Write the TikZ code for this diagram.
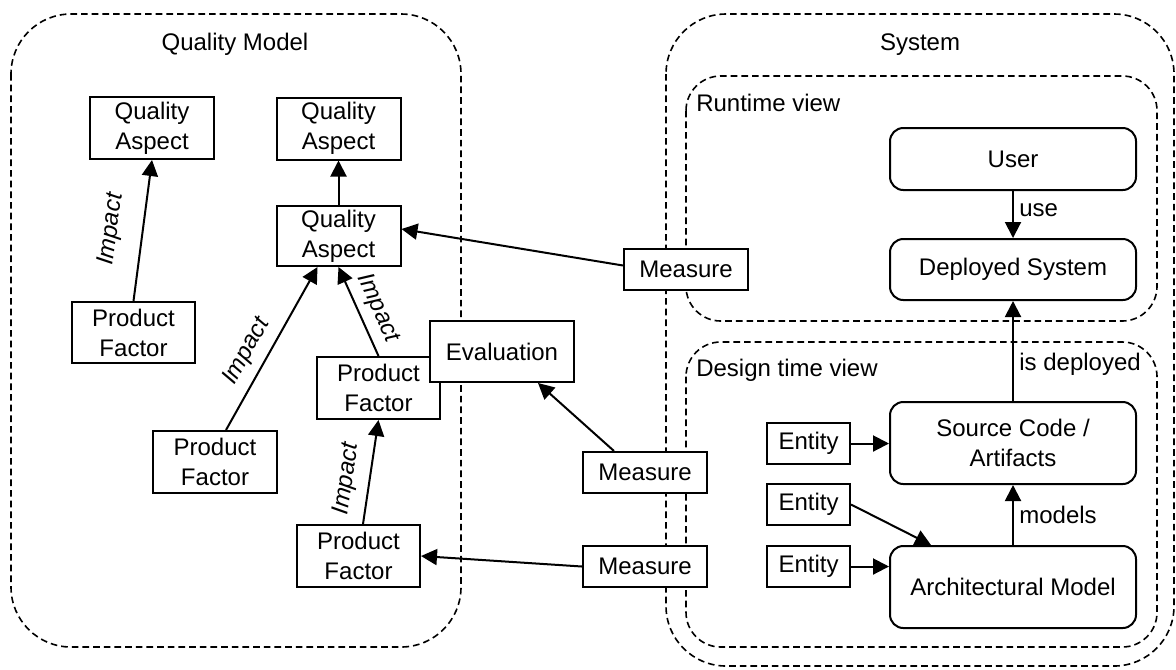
\documentclass[tikz,border=0pt]{standalone}
\usepackage{fontspec}
\setmainfont{Liberation Sans}
\usetikzlibrary{arrows.meta,calc}

\begin{document}
\begin{tikzpicture}[x=0.75pt,y=-0.75pt,
  font=\fontsize{18}{22.5}\selectfont,
  sz/.style 2 args={minimum width=#1*0.75pt, minimum height=#2*0.75pt},
  box/.style={draw, line width=1.5pt, fill=white, align=center, inner sep=0pt},
  rbox/.style={box, rounded corners=10pt},
  group/.style={draw, dash pattern=on 5pt off 3pt, line width=1.2pt},
  link/.style={line width=1.5pt, -{Triangle[length=12pt,width=12pt]}},
  lbl/.style={font=\fontsize{18}{22.5}\selectfont\itshape, sloped, above, inner sep=#1},
  rlbl/.style={right, inner sep=4pt},
  title/.style={anchor=base, inner sep=0pt},
  ltitle/.style={anchor=base west, inner sep=0pt},
]
\useasboundingbox (0,0) rectangle (1176,669);

% dashed groups
\draw[group, rounded corners=45pt] (11,14) rectangle (461,647);
\draw[group, rounded corners=45pt] (666,14) rectangle (1174,666);
\draw[group, rounded corners=26pt] (686,76) rectangle (1157,321);
\draw[group, rounded corners=26pt] (686,342) rectangle (1157,647);

\node[title] (tqm) at (235,50) {Quality Model};
\node[title] (tsys) at (920,50) {System};
\node[ltitle] (trun) at (696,111) {Runtime view};
\node[ltitle] (tdes) at (696,376) {Design time view};

% quality model
\node[box, sz={124}{62}] (qa1) at (152,128) {Quality\\Aspect};
\node[box, sz={124}{62}] (qa2) at (338.5,128.5) {Quality\\Aspect};
\node[box, sz={124}{60}] (qa3) at (338.5,236) {Quality\\Aspect};
\node[box, sz={123}{61}] (pf1) at (133.5,332.5) {Product\\Factor};
\node[box, sz={124}{62}] (pf2) at (215,462) {Product\\Factor};
\node[box, sz={123}{62}] (pf3) at (378.5,388) {Product\\Factor};
\node[box, sz={123}{62}] (pf4) at (358.5,556) {Product\\Factor};
\node[box, sz={144}{61}] (eval) at (502,351.5) {Evaluation};

% measures
\node[box, sz={124}{41}] (m1) at (686,269.5) {Measure};
\node[box, sz={124}{41}] (m2) at (645,472.5) {Measure};
\node[box, sz={124}{41}] (m3) at (645,566.5) {Measure};

% system
\node[rbox, sz={246}{62}] (user) at (1013,159) {User};
\node[rbox, sz={246}{61}] (dep) at (1013,269.5) {Deployed System};
\node[rbox, sz={246}{82}] (src) at (1013,443) {Source Code /\\Artifacts};
\node[rbox, sz={246}{82}] (arch) at (1013,587) {Architectural Model};
\node[box, sz={83}{41}] (e1) at (808.5,443.5) {Entity};
\node[box, sz={83}{41}] (e2) at (808.5,504.5) {Entity};
\node[box, sz={83}{41}] (e3) at (808.5,566.5) {Entity};

% impacts
\draw[link] (pf1.north) -- node[lbl=14.5pt, pos=0.48] {Impact} (qa1.south);
\draw[link] (qa3.north) -- (qa2.south);
\draw[link] ($(pf2.north)+(11,0)$) -- node[lbl=6.4pt, pos=0.42] {Impact} ($(qa3.south)+(-21,0)$);
\draw[link] (pf3.north) -- node[lbl=5.5pt, pos=0.45] {Impact} (qa3.south);
\draw[link] ($(pf4.north)+(4.5,0)$) -- node[lbl=8.2pt, pos=0.40] {Impact} (pf3.south);

% measurements
\draw[link] ($(m1.west)+(0,-4)$) -- ($(qa3.east)+(0,-7)$);
\draw[link] ($(m2.north)+(-31,0)$) -- ($(eval.south)+(36,0)$);
\draw[link] (m3.west) -- (pf4.east);

% system relations
\draw[link] (user.south) -- node[rlbl, pos=0.4] {use} (dep.north);
\draw[link] (src.north) -- node[rlbl, pos=0.37] {is deployed} (dep.south);
\draw[link] (arch.north) -- node[rlbl, pos=0.5] {models} (src.south);
\draw[link] (e1.east) -- (e1.east -| src.west);
\draw[link] (e2.east) -- ($(arch.north west)+(42,0)$);
\draw[link] (e3.east) -- (e3.east -| arch.west);
\end{tikzpicture}
\end{document}
